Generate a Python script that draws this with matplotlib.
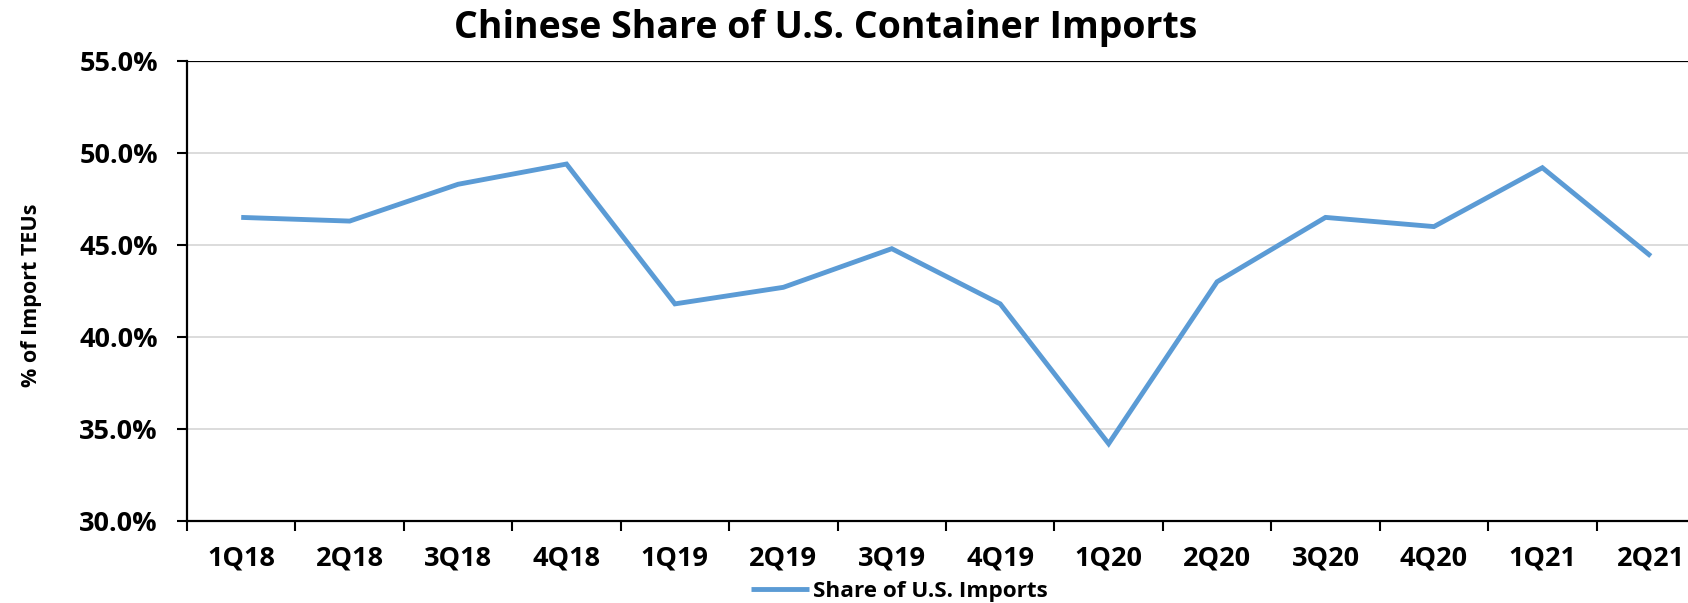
import matplotlib
matplotlib.use("Agg")
import matplotlib.pyplot as plt
from matplotlib.ticker import FixedLocator, NullFormatter, FuncFormatter

plt.rcParams['font.family'] = ['Open Sans', 'DejaVu Sans']

quarters = ["1Q18", "2Q18", "3Q18", "4Q18", "1Q19", "2Q19", "3Q19", "4Q19",
            "1Q20", "2Q20", "3Q20", "4Q20", "1Q21", "2Q21"]
share = [46.5, 46.3, 48.3, 49.4, 41.8, 42.7, 44.8, 41.8,
         34.2, 43.0, 46.5, 46.0, 49.2, 44.4]
yticks = [30, 35, 40, 45, 50, 55]

W, H = 1688, 603
fig = plt.figure(figsize=(W / 100, H / 100), dpi=100)
left, right, top, bottom = 187, 1705, 61, 521
ax = fig.add_axes([left / W, 1 - bottom / H, (right - left) / W, (bottom - top) / H])

x = list(range(len(quarters)))
line, = ax.plot(x, share, color="#5B9BD5", lw=3.5, solid_joinstyle="miter",
                solid_capstyle="butt", label="Share of U.S. Imports", zorder=3)

ax.set_xlim(-0.5, len(quarters) - 0.5)
ax.set_ylim(30, 55)
ax.set_yticks(yticks)
ax.yaxis.set_major_formatter(FuncFormatter(lambda v, p: f"{v:.1f}%"))
ax.grid(axis="y", color="#D9D9D9", lw=1.3, zorder=0)
ax.set_axisbelow(True)

# category labels centered, ticks between categories
ax.xaxis.set_major_locator(FixedLocator([i - 0.5 for i in range(len(quarters) + 1)]))
ax.xaxis.set_major_formatter(NullFormatter())
ax.xaxis.set_minor_locator(FixedLocator(x))
ax.set_xticklabels(quarters, minor=True)
ax.tick_params(axis="x", which="minor", length=0, pad=18)
ax.tick_params(axis="x", which="major", length=7, width=1.5, direction="out")
ax.tick_params(axis="y", length=7, width=1.5, direction="out", pad=14)
for lab in ax.get_xticklabels(minor=True) + ax.get_yticklabels():
    lab.set_fontsize(19.5)
    lab.set_fontweight("bold")

for s in ["top", "right"]:
    ax.spines[s].set_visible(False)
for s in ["left", "bottom"]:
    ax.spines[s].set_linewidth(1.6)
ax.axhline(55, color="black", lw=1.6, zorder=2)

ax.set_ylabel("% of Import TEUs", fontsize=15.5, fontweight="bold")
ax.yaxis.set_label_coords(-(left - 42) / (right - left), 0.49)

fig.text(826 / W, 1 - 28 / H, "Chinese Share of U.S. Container Imports",
         ha="center", va="center", fontsize=27, fontweight="bold")

fig.legend(handles=[line], loc="center", bbox_to_anchor=(899 / W, 1 - 591 / H),
           frameon=False, prop={"weight": "bold", "size": 16.2},
           handlelength=2.6, handletextpad=0.15, borderpad=0)

fig.savefig("out.png", dpi=100)
